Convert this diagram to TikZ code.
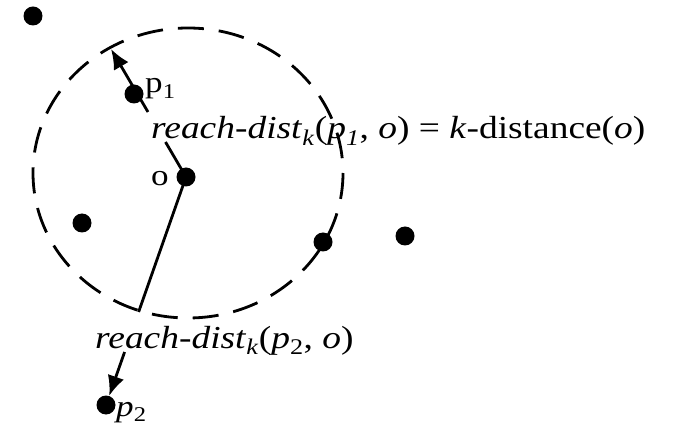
\documentclass[tikz,border=0pt]{standalone}
\usepackage{fontspec}
\setmainfont{Liberation Serif}[FakeStretch=1.17]
\usetikzlibrary{arrows.meta}
\begin{document}
\begin{tikzpicture}[x=1pt,y=-1pt,
  dot/.style={circle,fill=black,inner sep=0pt,minimum size=19pt},
  lbl/.style={inner sep=0pt,anchor=base west,font=\fontsize{30}{33}\selectfont},
  eq/.style={inner sep=0pt,anchor=base west,font=\fontsize{32}{35}\selectfont},
  ln/.style={line width=2.8pt},
  arr/.style={line width=2.8pt,-{Latex[length=20pt,width=17pt]}},
  kdist/.style={line width=2.8pt,dash pattern=on 26pt off 15pt}]
\useasboundingbox (0,0) rectangle (674,427);
% points
\node[dot] (a) at (33,16) {};
\node[dot] (p1) at (134,94) {};
\node[dot] (o) at (186,177) {};
\node[dot] (b) at (82,223) {};
\node[dot] (c) at (323,242) {};
\node[dot] (d) at (405,236) {};
\node[dot] (p2) at (106,405) {};
% coordinates on the connectors
\coordinate (tip1) at (111,49);
\coordinate (q1) at (165.5,142);
\coordinate (r1) at (148,112);
\coordinate (q2) at (138.6,312);
\coordinate (r2) at (124.6,352);
% connectors
\draw[ln] (o.center) -- (q1);
\draw[arr] (r1) -- (tip1);
\draw[ln] (o.center) -- (q2);
\draw[arr] (r2) -- (p2);
% k-distance neighbourhood
\draw[kdist] (188,173) ellipse [x radius=155, y radius=145];
% labels
\node[lbl] (lp1) at (145,93) {p\textsubscript{1}};
\node[lbl] (lo) at (151,186) {o};
\node[lbl] (lp2) at (116,416) {\textit{p}\textsubscript{2}};
\node[eq] (t1) at (151,139) {\textit{reach-dist}\textsubscript{\textit{k}}(\textit{p}\textsubscript{\textit{1}}, \textit{o}) = \textit{k}-distance(\textit{o})};
\node[eq] (t2) at (95,348) {\textit{reach-dist}\textsubscript{\textit{k}}(\textit{p}\textsubscript{2}, \textit{o})};
\end{tikzpicture}
\end{document}
